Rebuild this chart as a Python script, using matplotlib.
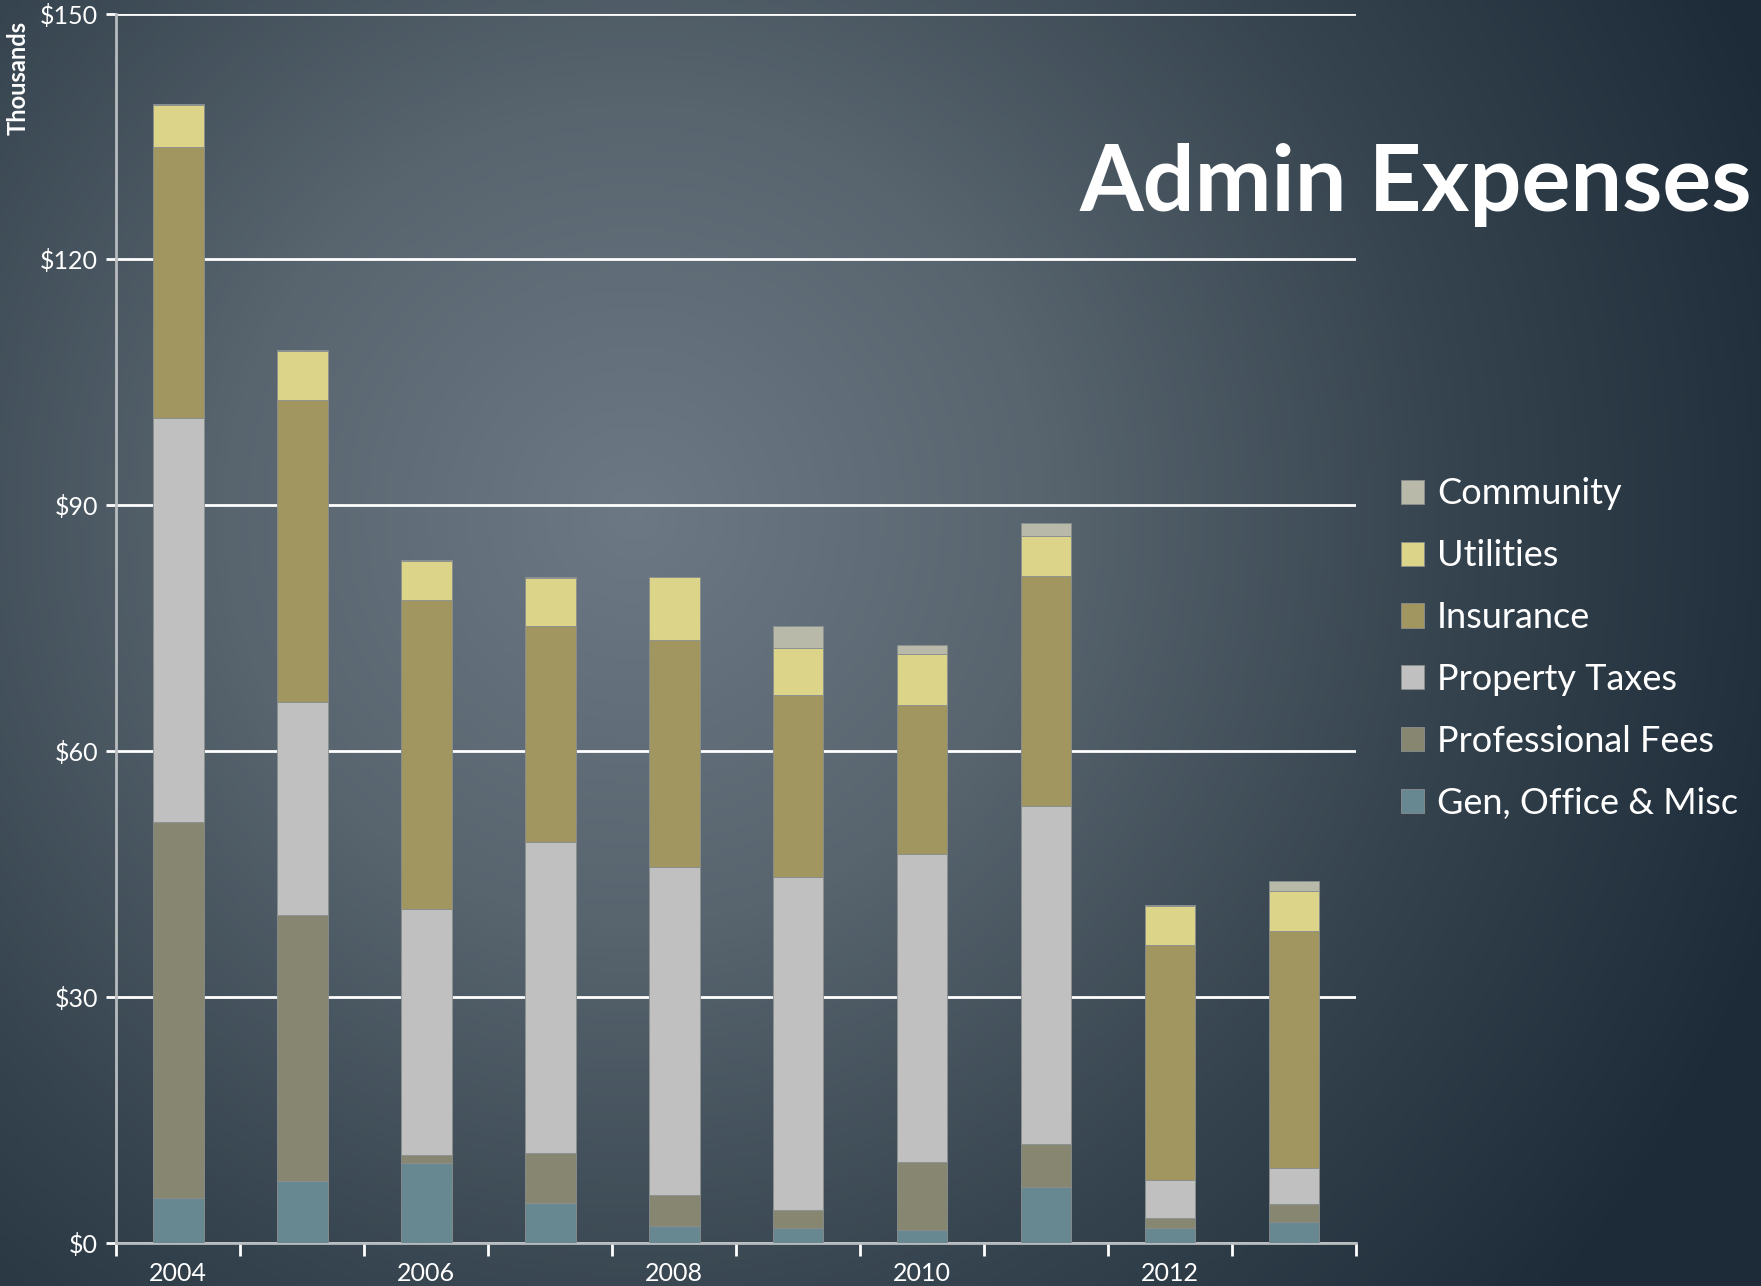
import numpy as np
import matplotlib
matplotlib.use("Agg")
from matplotlib import pyplot as plt
from matplotlib.colors import LinearSegmentedColormap

plt.rcParams["font.family"] = ["Lato", "DejaVu Sans"]

# chart data (thousands of dollars)
YEARS = ["2004", "2005", "2006", "2007", "2008", "2009", "2010", "2011", "2012", "2013"]
GEN_OFFICE = [5.5, 7.5, 9.7, 4.9, 2.1, 1.8, 1.6, 6.8, 1.8, 2.6]
PROF_FEES = [45.9, 32.5, 1.0, 6.1, 3.7, 2.2, 8.3, 5.3, 1.2, 2.1]
PROP_TAXES = [49.3, 26.0, 30.1, 37.9, 40.1, 40.7, 37.6, 41.2, 4.7, 4.5]
INSURANCE = [33.0, 36.9, 37.6, 26.4, 27.7, 22.1, 18.1, 28.1, 28.6, 28.9]
UTILITIES = [5.1, 5.9, 4.8, 5.8, 7.6, 5.8, 6.2, 4.9, 4.8, 4.8]
COMMUNITY = [0.2, 0.1, 0.1, 0.1, 0.1, 2.7, 1.2, 1.5, 0.1, 1.3]

SERIES = [
    ("Gen, Office & Misc", GEN_OFFICE, "#678791"),
    ("Professional Fees", PROF_FEES, "#878670"),
    ("Property Taxes", PROP_TAXES, "#c0c0c0"),
    ("Insurance", INSURANCE, "#a29660"),
    ("Utilities", UTILITIES, "#dcd488"),
    ("Community", COMMUNITY, "#b9b9aa"),
]

fig = plt.figure(figsize=(17.61, 12.86), dpi=100)

# radial gradient background
bg = fig.add_axes([0, 0, 1, 1], zorder=-10)
xx, yy = np.meshgrid(np.linspace(0, 1, 400), np.linspace(0, 1, 300))
dist = np.sqrt(((xx - 0.36) * 1.37) ** 2 + (yy - 0.6) ** 2)
dist = np.clip(dist / 0.95, 0, 1)
cmap = LinearSegmentedColormap.from_list("bg", ["#6c7985", "#58656f", "#36444f", "#1d2b39"])
bg.imshow(dist, cmap=cmap, origin="lower", extent=[0, 1, 0, 1], aspect="auto")
bg.axis("off")

ax = fig.add_axes([0.066, 0.0335, 0.704, 0.956])
ax.set_facecolor("none")

x = np.arange(len(YEARS))
bottom = np.zeros(len(YEARS))
handles = []
for name, vals, color in SERIES:
    b = ax.bar(x, vals, width=0.41, bottom=bottom, color=color,
               edgecolor="#8a8f8f", linewidth=0.6, label=name, zorder=3)
    handles.append(b)
    bottom += np.array(vals)

ax.set_xlim(-0.5, len(YEARS) - 0.5)
ax.set_ylim(0, 150)
ax.set_yticks([0, 30, 60, 90, 120, 150])
ax.set_yticklabels(["$0", "$30", "$60", "$90", "$120", "$150"])
ax.yaxis.grid(True, color="white", linewidth=2, zorder=1)
ax.set_axisbelow(True)

# ticks between categories, labels on every other year
ax.set_xticks(np.arange(-0.5, len(YEARS), 1.0))
ax.set_xticklabels([])
ax.set_xticks(x[::2], minor=True)
ax.set_xticklabels(YEARS[::2], minor=True)
ax.tick_params(axis="x", which="major", length=9, width=2, color="white", direction="out")
ax.tick_params(axis="x", which="minor", length=0, labelsize=18, labelcolor="white", pad=14)
ax.tick_params(axis="y", length=7, width=2, color="white", labelsize=18, labelcolor="white", pad=6)

for side in ["top", "right"]:
    ax.spines[side].set_visible(False)
ax.spines["left"].set_color("#b8bcbf")
ax.spines["left"].set_linewidth(2)
ax.spines["bottom"].set_color("#b8bcbf")
ax.spines["bottom"].set_linewidth(2)

fig.text(0.004, 0.984, "Thousands", rotation=90, color="white", fontsize=17,
         fontweight="bold", ha="left", va="top")

fig.text(0.995, 0.856, "Admin Expenses", color="white", fontsize=66,
         fontweight="bold", ha="right", va="center")

fig.legend(handles[::-1], [s[0] for s in SERIES][::-1], loc="upper left",
           bbox_to_anchor=(0.777, 0.654), frameon=False, fontsize=26,
           labelcolor="white", handlelength=0.65, handleheight=0.65,
           handletextpad=0.35, labelspacing=0.8)

fig.savefig("out.png", dpi=100)
